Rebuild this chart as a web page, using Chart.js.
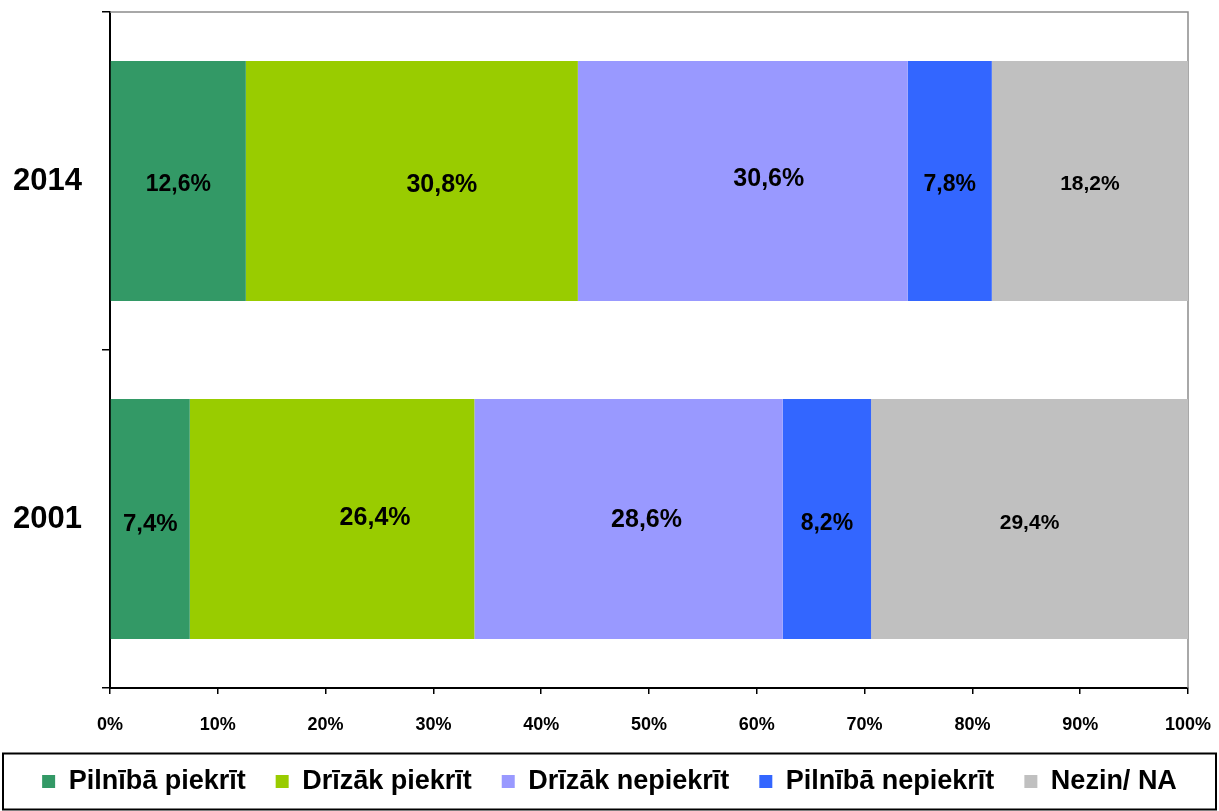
<!DOCTYPE html>
<html>
<head>
<meta charset="utf-8">
<script src="https://cdn.jsdelivr.net/npm/chart.js@4.4.0/dist/chart.umd.min.js"></script>
<style>
  html, body { margin: 0; padding: 0; background: #fff; }
  #wrap { width: 1219px; height: 811px; }
</style>
</head>
<body>
<div id="wrap"><canvas id="bars" width="1219" height="811"></canvas></div>
<script>
// gadi (kategorijas)
const years = ['2014', '2001'];

// atbilžu varianti un vērtības (%)
const pilnibaPiekrit = [12.6, 7.4];
const drizakPiekrit = [30.8, 26.4];
const drizakNepiekrit = [30.6, 28.6];
const pilnibaNepiekrit = [7.8, 8.2];
const nezin = [18.2, 29.4];

const xTicks = [0, 10, 20, 30, 40, 50, 60, 70, 80, 90, 100];

// krāsas, etiķešu izmēri un nobīdes
const colors = ['#339966', '#99CC00', '#9999FF', '#3366FF', '#C0C0C0'];
const labelSizes = [[23, 24], [25, 25], [25, 25], [23, 23], [21, 21]];
const labelDx = [[0, 0], [30, 43], [26, 18], [0, 0], [0, 0]];
const labelDy = [[4, 5], [4, -1], [-2, 1], [4, 5], [3, 4]];

const series = [
    { label: 'Pilnībā piekrīt', data: pilnibaPiekrit },
    { label: 'Drīzāk piekrīt', data: drizakPiekrit },
    { label: 'Drīzāk nepiekrīt', data: drizakNepiekrit },
    { label: 'Pilnībā nepiekrīt', data: pilnibaNepiekrit },
    { label: 'Nezin/ NA', data: nezin }
];

const FONT = '"Liberation Sans", Arial, sans-serif';

// vērtību etiķetes joslu centrā
const valueLabels = {
    id: 'valueLabels',
    afterDatasetsDraw(chart) {
        const ctx = chart.ctx;
        ctx.save();
        ctx.textAlign = 'center';
        ctx.textBaseline = 'middle';
        ctx.fillStyle = '#000';
        chart.data.datasets.forEach((ds, i) => {
            const meta = chart.getDatasetMeta(i);
            meta.data.forEach((bar, j) => {
                const c = bar.getCenterPoint();
                ctx.font = 'bold ' + labelSizes[i][j] + 'px ' + FONT;
                ctx.fillText(ds.data[j].toFixed(1).replace('.', ',') + '%', c.x + labelDx[i][j], c.y + labelDy[i][j]);
            });
        });
        ctx.restore();
    }
};

// pelēkā augšējā un labā mala, leģendas rāmis
const frame = {
    id: 'frame',
    beforeDatasetsDraw(chart) {
        const a = chart.chartArea;
        const ctx = chart.ctx;
        ctx.save();
        ctx.strokeStyle = '#8c8c8c';
        ctx.lineWidth = 1.5;
        ctx.beginPath();
        ctx.moveTo(a.left, a.top);
        ctx.lineTo(a.right, a.top);
        ctx.lineTo(a.right, a.bottom);
        ctx.stroke();
        ctx.restore();
    },
    afterDraw(chart) {
        const hb = chart.legend.legendHitBoxes[0];
        const cy = hb.top + hb.height / 2;
        const ctx = chart.ctx;
        ctx.save();
        ctx.strokeStyle = '#000';
        ctx.lineWidth = 2;
        ctx.strokeRect(3, cy - 28, chart.width - 6, 56);
        ctx.restore();
    }
};

new Chart(document.getElementById('bars'), {
    type: 'bar',
    data: {
        labels: years,
        datasets: series.map((s, i) => ({
            label: s.label,
            data: s.data,
            backgroundColor: colors[i],
            borderWidth: 0,
            categoryPercentage: 1,
            barPercentage: 0.71
        }))
    },
    plugins: [valueLabels, frame],
    options: {
        indexAxis: 'y',
        responsive: false,
        animation: false,
        layout: { padding: { top: 12, right: 0, left: 0, bottom: 6 } },
        scales: {
            x: {
                stacked: true,
                min: 0,
                max: 100,
                afterBuildTicks(axis) { axis.ticks = xTicks.map(v => ({ value: v })); },
                afterFit(axis) { axis.paddingLeft = 0; axis.paddingRight = 31; axis.height = 50; },
                border: { display: true, color: '#000', width: 2 },
                grid: { drawOnChartArea: false, drawTicks: true, tickLength: 6, color: '#000', lineWidth: 1.5 },
                ticks: {
                    callback: v => v + '%',
                    color: '#000',
                    padding: 20,
                    maxRotation: 0,
                    font: { family: FONT, size: 18, weight: 'bold' }
                }
            },
            y: {
                stacked: true,
                afterFit(axis) { axis.width = 110; axis.paddingTop = 0; axis.paddingBottom = 0; },
                border: { display: true, color: '#000', width: 2 },
                grid: { offset: true, drawOnChartArea: false, drawTicks: true, tickLength: 8, color: '#000', lineWidth: 1.5 },
                ticks: {
                    color: '#000',
                    padding: 20,
                    font: { family: FONT, size: 31, weight: 'bold' }
                }
            }
        },
        plugins: {
            legend: {
                position: 'bottom',
                labels: {
                    color: '#000',
                    boxWidth: 13,
                    boxHeight: 13,
                    padding: 30,
                    font: { family: FONT, size: 27, weight: 'bold' }
                }
            },
            tooltip: { enabled: false }
        }
    }
});
</script>
</body>
</html>
